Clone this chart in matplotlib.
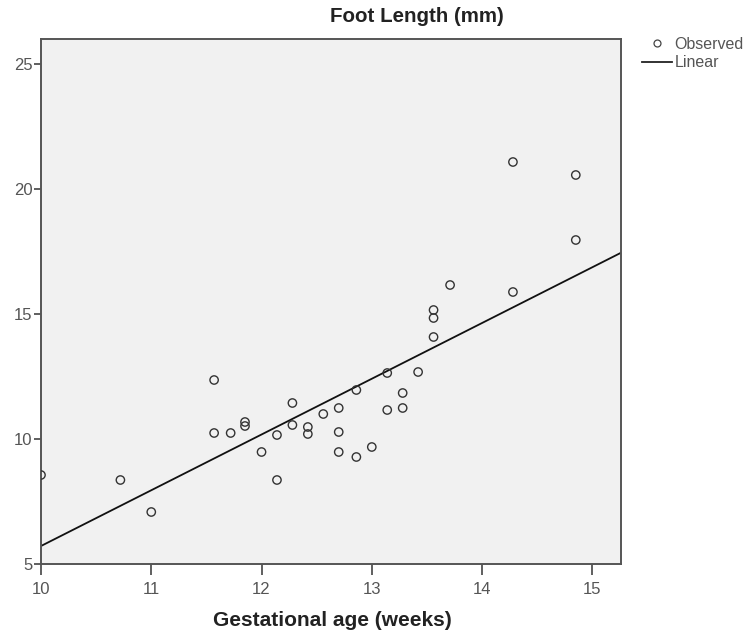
import matplotlib
matplotlib.use("Agg")
import matplotlib.pyplot as plt
import numpy as np
from matplotlib.lines import Line2D

gest_age = [10.0, 10.72, 11.0, 11.57, 11.57, 11.72, 11.85, 11.85, 12.0, 12.14,
            12.14, 12.28, 12.28, 12.42, 12.42, 12.56, 12.7, 12.7, 12.7, 12.86,
            12.86, 13.0, 13.14, 13.14, 13.28, 13.28, 13.42, 13.56, 13.56, 13.56,
            13.71, 14.28, 14.28, 14.85, 14.85]
foot_len = [8.56, 8.36, 7.08, 12.36, 10.24, 10.24, 10.68, 10.52, 9.48, 10.16,
            8.36, 11.44, 10.56, 10.48, 10.2, 11.0, 11.24, 10.28, 9.48, 11.96,
            9.28, 9.68, 12.64, 11.16, 11.84, 11.24, 12.68, 15.16, 14.84, 14.08,
            16.16, 21.08, 15.88, 20.56, 17.96]

# Linear fit line (as drawn)
fit_slope = 2.23
fit_intercept = -16.58

x_ticks = [10, 11, 12, 13, 14, 15]
y_ticks = [5, 10, 15, 20, 25]
x_range = (10.0, 15.26)
y_range = (5.0, 26.0)

plt.rcParams['font.family'] = ['Liberation Sans Narrow', 'Liberation Sans', 'DejaVu Sans']

fig = plt.figure(figsize=(7.49, 6.36), dpi=100)
ax = fig.add_axes([41/749, 1-564/636, (621-41)/749, (564-39)/636])
ax.set_facecolor('#f1f1f1')

ax.scatter(gest_age, foot_len, s=36, facecolors='none', edgecolors='#333333',
           linewidths=1.0, zorder=3, clip_on=True)
xx = np.array(x_range)
ax.plot(xx, fit_intercept + fit_slope * xx, color='#111111', lw=1.3, zorder=2)

ax.set_xlim(*x_range)
ax.set_ylim(*y_range)
ax.set_xticks(x_ticks)
ax.set_yticks(y_ticks)
ax.tick_params(axis='x', length=8, width=1.2, colors='#444444', labelsize=12,
               labelcolor='#555555', pad=5)
ax.tick_params(axis='y', length=5, width=1.2, colors='#444444', labelsize=12,
               labelcolor='#555555', pad=1)
for sp in ax.spines.values():
    sp.set_color('#555555')
    sp.set_linewidth(1.4)

fig.text(417/749, 1-16/636, 'Foot Length (mm)', ha='center', va='center',
         fontsize=14.8, fontweight='bold', color='#222222',
         family=['Liberation Sans', 'DejaVu Sans'])
fig.text(332/749, 1-620/636, 'Gestational age (weeks)', ha='center', va='center',
         fontsize=15, fontweight='bold', color='#222222',
         family=['Liberation Sans', 'DejaVu Sans'])

handles = [Line2D([], [], marker='o', ls='none', mfc='none', mec='#444444', ms=5, mew=0.9),
           Line2D([], [], color='#222222', lw=1.3)]
leg = fig.legend(handles, ['Observed', 'Linear'], loc='upper left',
                 bbox_to_anchor=(642/749, 1-37/636), frameon=False,
                 fontsize=11.5, handlelength=1.9, handletextpad=0.15,
                 labelspacing=0.2, borderpad=0, borderaxespad=0)
for t in leg.get_texts():
    t.set_color('#555555')

fig.savefig('out.png', dpi=100, facecolor='white')
